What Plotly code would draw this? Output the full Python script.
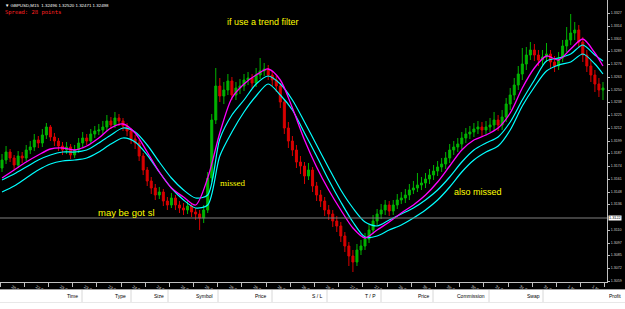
import plotly.graph_objects as go

# ---------------- data (prices in pips above 1.3000) ----------------
open_pips = [172,180,188,182,175,184,182,190,193,200,
             197,205,213,203,199,194,190,193,185,190,
             197,202,199,206,209,210,213,219,215,222,
             219,214,209,201,197,184,170,159,152,145,
             148,139,135,142,135,132,130,134,128,126,
             122,130,162,220,254,244,250,259,245,252,
             254,260,262,257,265,269,271,265,260,254,
             238,212,199,190,178,174,164,170,154,145,
             139,130,126,119,114,104,94,84,78,90,
             94,101,110,119,126,130,135,129,135,140,
             142,145,150,152,155,157,161,165,169,173,
             176,182,190,193,196,202,206,208,211,213,
             210,213,215,220,215,223,236,245,255,266,
             276,285,290,285,280,283,286,278,274,282,
             294,300,307,310,298,285,274,265,256,250]
close_pips = [180,188,182,175,184,182,190,193,200,197,
              205,213,203,199,194,190,193,185,190,197,
              202,199,206,209,210,213,219,215,222,219,
              214,209,201,197,184,170,159,152,145,148,
              139,135,142,135,132,130,134,128,126,122,
              130,162,220,254,244,250,259,245,252,254,
              260,262,257,265,269,271,265,260,254,238,
              212,199,190,178,174,164,170,154,145,139,
              130,126,119,114,104,94,84,78,90,94,
              101,110,119,126,130,135,129,135,140,142,
              145,150,152,155,157,161,165,169,173,176,
              182,190,193,196,202,206,208,211,213,210,
              213,215,220,215,223,236,245,255,266,276,
              285,290,285,280,283,286,278,274,282,294,
              300,307,310,298,285,274,265,256,250,252]
high_pips = [186,194,191,185,189,188,195,199,206,204,
             211,217,215,207,202,198,198,196,195,202,
             208,206,211,214,216,219,225,223,228,226,
             222,217,212,205,200,187,173,163,156,153,
             151,143,147,145,139,137,139,137,132,130,
             135,168,226,272,262,258,266,263,258,261,
             266,268,266,272,282,277,275,269,264,257,
             241,218,204,195,184,178,177,173,158,150,
             143,135,130,124,118,108,98,90,96,100,
             107,116,125,131,136,140,139,140,146,148,
             151,156,159,167,163,167,171,175,179,182,
             188,196,199,202,208,212,214,217,219,218,
             219,222,228,225,230,242,252,262,274,292,
             293,298,296,290,290,297,290,284,288,300,
             313,326,318,315,303,290,280,270,262,258]
low_pips = [168,176,178,170,172,177,179,186,189,192,
            193,201,199,194,189,185,186,181,182,187,
            193,195,196,202,205,206,209,211,212,214,
            209,204,196,191,179,165,154,146,140,141,
            134,130,132,130,127,125,126,123,120,110,
            117,127,158,216,238,236,245,240,240,246,
            249,255,252,253,261,264,260,254,248,232,
            206,192,184,172,166,156,160,148,139,133,
            124,120,113,108,98,88,74,68,74,85,
            90,97,106,114,121,125,124,125,131,136,
            137,140,146,148,150,152,156,160,164,168,
            171,177,185,188,191,197,201,203,206,204,
            205,208,210,209,210,218,230,240,250,260,
            270,280,279,274,275,278,272,268,270,278,
            288,295,300,292,278,268,258,248,243,240]

ma_bars = list(range(0, 150, 3)) + [149]
magenta_pips = [162,170,178,185,191,192,190,194,202,212,216,207,188,168,152,143,135,162,207,242,
                256,265,271,260,232,200,173,150,130,112,102,110,118,127,135,145,158,174,190,200,
                205,212,227,252,272,284,280,291,301,287,274]
cyan_upper_pips = [160,166,173,180,185,188,188,190,197,205,212,208,195,178,162,150,142,145,201,225,
                   240,256,264,256,240,218,195,172,150,132,118,114,120,126,132,140,150,163,178,190,
                   197,203,218,240,260,279,282,286,295,285,279]
cyan_lower_pips = [148,154,162,170,176,179,180,182,188,196,202,198,185,168,152,140,132,135,184,208,
                   228,244,256,245,230,207,184,160,138,118,103,104,110,115,122,130,140,153,168,180,
                   188,194,210,234,253,269,275,278,286,276,266]

x_labels = ["20 Oct 2017","22 Oct 21:45","23 Oct 05:45","23 Oct 13:45","23 Oct 21:45",
            "24 Oct 05:45","24 Oct 13:45","24 Oct 21:45","25 Oct 05:45","25 Oct 13:45",
            "25 Oct 21:45","26 Oct 05:45","26 Oct 13:45","26 Oct 21:45","27 Oct 05:45",
            "27 Oct 13:45","29 Oct 21:45","30 Oct 05:45","30 Oct 13:45","30 Oct 21:45",
            "31 Oct 05:45","31 Oct 13:45","31 Oct 21:45","1 Nov 05:45","1 Nov 13:45","1 Nov 21:45"]
y_labels = ["1.3327","1.3314","1.3301","1.3289","1.3276","1.3263","1.3250","1.3238","1.3225",
            "1.3212","1.3199","1.3187","1.3174","1.3161","1.3148","1.3136","1.3110",
            "1.3097","1.3085","1.3072","1.3059"]
hline_label = "1.3122"
header_text = "▼ GBPUSD,M15  1.32496 1.32520 1.32471 1.32498"
spread_text = "Spread: 28 points"
note_texts = ["if use a trend filter", "may be got sl", "missed", "also missed"]
columns = ["Time","Type","Size","Symbol","Price","S / L","T / P","Price","Commission","Swap","Profit"]

BASE = 1.3
def to_price(p):
    return [BASE + v / 10000 for v in p]

# ---------------- figure ----------------
W, H = 625, 309
MR, MB = 18, 27
PW, PH = W - MR, H - MB

def pxx(p):
    return p / PW

def pxy(p):
    return (PH - p) / PH

bars = list(range(len(close_pips)))
fig = go.Figure()
fig.add_trace(go.Candlestick(
    x=bars, open=to_price(open_pips), high=to_price(high_pips),
    low=to_price(low_pips), close=to_price(close_pips),
    increasing=dict(line=dict(color="#00b400", width=1), fillcolor="#00b400"),
    decreasing=dict(line=dict(color="#d80000", width=1), fillcolor="#d80000"),
    whiskerwidth=0, showlegend=False, hoverinfo="skip"))
for arr, col, w in [(cyan_upper_pips, "#00ffff", 1.2), (cyan_lower_pips, "#00ffff", 1.2),
                    (magenta_pips, "#ff00ff", 1.3)]:
    fig.add_trace(go.Scatter(x=ma_bars, y=to_price(arr), mode="lines",
                             line=dict(color=col, width=w, shape="spline", smoothing=0.8),
                             showlegend=False, hoverinfo="skip"))

hline_price = float(hline_label)
shapes = [
    dict(type="line", xref="paper", yref="y", x0=0, x1=1, y0=hline_price, y1=hline_price,
         line=dict(color="#808080", width=1)),
    dict(type="rect", xref="paper", yref="paper", x0=0, x1=W / PW, y0=pxy(H), y1=pxy(289.5),
         fillcolor="#ffffff", line=dict(width=0), layer="above"),
    dict(type="line", xref="paper", yref="paper", x0=0, x1=W / PW, y0=pxy(289.5), y1=pxy(289.5),
         line=dict(color="#a0a0a0", width=1), layer="above"),
    dict(type="line", xref="paper", yref="paper", x0=0, x1=W / PW, y0=pxy(302.5), y1=pxy(302.5),
         line=dict(color="#e8e8e8", width=1), layer="above"),
]
sep_px = [82, 131, 168, 218, 272, 327, 381, 433, 489, 543]
for s in sep_px:
    shapes.append(dict(type="line", xref="paper", yref="paper", x0=pxx(s), x1=pxx(s),
                       y0=pxy(302), y1=pxy(290), line=dict(color="#d8d8d8", width=1), layer="above"))

annotations = [
    dict(x=pxx(3), y=pxy(1), xref="paper", yref="paper", xanchor="left", yanchor="top",
         text=header_text, showarrow=False, font=dict(color="#ffffff", size=4.4,
         family="Liberation Sans")),
    dict(x=pxx(3), y=pxy(6.5), xref="paper", yref="paper", xanchor="left", yanchor="top",
         text=spread_text, showarrow=False, font=dict(color="#ff2020", size=5.5,
         family="DejaVu Sans Mono")),
    dict(x=1, y=hline_price, xref="paper", yref="y", xanchor="left", yanchor="middle", xshift=1,
         text=hline_label, showarrow=False, bgcolor="#ffffff", borderpad=0,
         font=dict(color="#000000", size=3.8, family="Liberation Sans")),
]
note_pos = [(263, 22, "Liberation Sans", 9), (126, 212, "Liberation Sans", 9.5),
            (233, 183, "Liberation Serif", 9), (478, 192, "Liberation Sans", 9)]
for t, (x, y, fam, sz) in zip(note_texts, note_pos):
    annotations.append(dict(x=pxx(x), y=pxy(y), xref="paper", yref="paper", text=t,
                            showarrow=False, xanchor="center", yanchor="middle",
                            font=dict(color="#ffff00", size=sz, family=fam)))
col_right = [80, 128, 166, 215, 269, 325, 378, 432, 487, 542]
for name, r in zip(columns[:-1], col_right):
    annotations.append(dict(x=pxx(r), y=pxy(296), xref="paper", yref="paper", text=name,
                            showarrow=False, xanchor="right", yanchor="middle",
                            font=dict(color="#000000", size=5, family="Liberation Sans")))
annotations.append(dict(x=pxx(623), y=pxy(296), xref="paper", yref="paper", text=columns[-1],
                        showarrow=False, xanchor="right", yanchor="middle",
                        font=dict(color="#000000", size=5, family="Liberation Sans")))

fig.update_layout(
    width=W, height=H, margin=dict(l=0, r=MR, t=0, b=MB, pad=0),
    paper_bgcolor="#000000", plot_bgcolor="#000000", hovermode=False,
    shapes=shapes, annotations=annotations,
    xaxis=dict(range=[-0.5, 150], tickmode="array",
               tickvals=[6 * k - 0.5 for k in range(len(x_labels))], ticktext=x_labels,
               ticks="outside", ticklen=4, tickcolor="#c0c0c0", tickwidth=1,
               tickfont=dict(color="#e0e0e0", size=4, family="Liberation Sans"),
               ticklabelshift=12, ticklabelstandoff=-4,
               showline=True, linecolor="#c0c0c0", linewidth=1, mirror=False,
               showgrid=False, zeroline=False, rangeslider=dict(visible=False), fixedrange=True),
    yaxis=dict(side="right", range=[1.3058, 1.3340], tickmode="array",
               tickvals=[float(s) for s in y_labels], ticktext=y_labels,
               ticks="outside", ticklen=2, tickcolor="#c0c0c0",
               tickfont=dict(color="#d0d0d0", size=3.6, family="Liberation Sans"),
               showline=True, linecolor="#c0c0c0", linewidth=1,
               showgrid=False, zeroline=False, fixedrange=True),
)
fig.write_html("out.html")
